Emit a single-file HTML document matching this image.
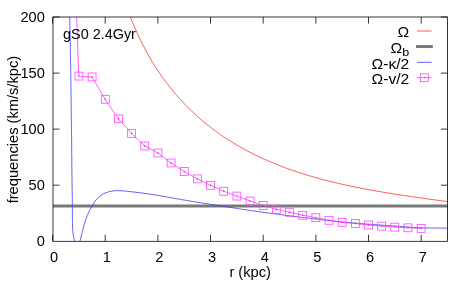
<!DOCTYPE html>
<html><head><meta charset="utf-8"><title>plot</title>
<style>html,body{margin:0;padding:0;background:#fff;}body{width:471px;height:283px;overflow:hidden;}svg{display:block;will-change:transform;}text{font-family:"Liberation Sans",sans-serif;font-size:14px;fill:#000;}</style>
</head><body>
<svg width="471" height="283" viewBox="0 0 471 283">
<rect width="471" height="283" fill="#fff"/>
<defs><clipPath id="c"><rect x="53.0" y="17.0" width="394.5" height="224.3"/></clipPath></defs>
<g clip-path="url(#c)" fill="none">
<path d="M121.0,-9.3 L122.7,-4.2 L124.3,0.7 L126.0,5.4 L127.6,9.9 L129.3,14.2 L130.9,18.4 L132.6,22.5 L134.2,26.3 L135.9,30.1 L137.5,33.7 L139.1,37.3 L140.8,40.7 L142.4,44.0 L144.1,47.1 L145.7,50.2 L147.4,53.3 L149.0,56.2 L150.7,59.0 L152.3,61.8 L154.0,64.5 L155.6,67.1 L157.2,69.6 L158.9,72.1 L160.5,74.5 L162.2,76.9 L163.8,79.2 L165.5,81.4 L167.1,83.6 L168.8,85.7 L170.4,87.8 L172.1,89.9 L173.7,91.9 L175.4,93.8 L177.0,95.7 L178.6,97.6 L180.3,99.4 L181.9,101.2 L183.6,103.0 L185.2,104.7 L186.9,106.4 L188.5,108.0 L190.2,109.7 L191.8,111.2 L193.5,112.8 L195.1,114.3 L196.7,115.8 L198.4,117.3 L200.0,118.7 L201.7,120.1 L203.3,121.5 L205.0,122.9 L206.6,124.2 L208.3,125.5 L209.9,126.8 L211.6,128.1 L213.2,129.3 L214.8,130.6 L216.5,131.8 L218.1,133.0 L219.8,134.1 L221.4,135.3 L223.1,136.4 L224.7,137.5 L226.4,138.6 L228.0,139.6 L229.7,140.7 L231.3,141.7 L232.9,142.7 L234.6,143.7 L236.2,144.7 L237.9,145.7 L239.5,146.6 L241.2,147.6 L242.8,148.5 L244.5,149.4 L246.1,150.3 L247.8,151.2 L249.4,152.0 L251.1,152.9 L252.7,153.7 L254.3,154.5 L256.0,155.3 L257.6,156.1 L259.3,156.9 L260.9,157.7 L262.6,158.4 L264.2,159.2 L265.9,159.9 L267.5,160.6 L269.2,161.3 L270.8,162.0 L272.4,162.7 L274.1,163.4 L275.7,164.1 L277.4,164.7 L279.0,165.4 L280.7,166.0 L282.3,166.6 L284.0,167.3 L285.6,167.9 L287.3,168.5 L288.9,169.1 L290.5,169.6 L292.2,170.2 L293.8,170.8 L295.5,171.3 L297.1,171.9 L298.8,172.4 L300.4,173.0 L302.1,173.5 L303.7,174.0 L305.4,174.5 L307.0,175.0 L308.6,175.5 L310.3,176.0 L311.9,176.5 L313.6,177.0 L315.2,177.5 L316.9,177.9 L318.5,178.4 L320.2,178.8 L321.8,179.3 L323.5,179.7 L325.1,180.1 L326.8,180.6 L328.4,181.0 L330.0,181.4 L331.7,181.8 L333.3,182.2 L335.0,182.6 L336.6,183.0 L338.3,183.4 L339.9,183.8 L341.6,184.1 L343.2,184.5 L344.9,184.9 L346.5,185.2 L348.1,185.6 L349.8,185.9 L351.4,186.3 L353.1,186.6 L354.7,187.0 L356.4,187.3 L358.0,187.6 L359.7,187.9 L361.3,188.3 L363.0,188.6 L364.6,188.9 L366.2,189.2 L367.9,189.5 L369.5,189.8 L371.2,190.1 L372.8,190.4 L374.5,190.7 L376.1,191.0 L377.8,191.3 L379.4,191.6 L381.1,191.8 L382.7,192.1 L384.3,192.4 L386.0,192.7 L387.6,192.9 L389.3,193.2 L390.9,193.5 L392.6,193.7 L394.2,194.0 L395.9,194.3 L397.5,194.5 L399.2,194.8 L400.8,195.0 L402.4,195.3 L404.1,195.5 L405.7,195.8 L407.4,196.0 L409.0,196.2 L410.7,196.5 L412.3,196.7 L414.0,197.0 L415.6,197.2 L417.3,197.4 L418.9,197.7 L420.6,197.9 L422.2,198.1 L423.8,198.4 L425.5,198.6 L427.1,198.8 L428.8,199.1 L430.4,199.3 L432.1,199.5 L433.7,199.7 L435.4,200.0 L437.0,200.2 L438.7,200.4 L440.3,200.6 L441.9,200.8 L443.6,201.1 L445.2,201.3 L446.9,201.5 L448.5,201.7" stroke="#ff2a2a" stroke-width="0.78"/>
<line x1="53.0" x2="448.5" y1="206" y2="206" stroke="#7a7a7a" stroke-width="3"/>
<path d="M69.7,17.0 L69.7,18.6 L69.8,20.2 L69.8,21.8 L69.8,23.5 L69.9,25.1 L69.9,26.7 L69.9,28.3 L70.0,29.9 L70.0,31.5 L70.0,33.2 L70.1,34.8 L70.1,36.4 L70.1,38.0 L70.2,39.6 L70.2,41.2 L70.2,42.8 L70.3,44.5 L70.3,46.1 L70.3,47.7 L70.3,49.3 L70.4,50.9 L70.4,52.5 L70.4,54.2 L70.5,55.8 L70.5,57.4 L70.5,59.0 L70.5,60.6 L70.6,62.2 L70.6,63.8 L70.6,65.5 L70.7,67.1 L70.7,68.7 L70.7,70.3 L70.7,71.9 L70.8,73.5 L70.8,75.2 L70.8,76.8 L70.8,78.4 L70.9,80.0 L70.9,81.6 L70.9,83.2 L70.9,84.8 L70.9,86.5 L71.0,88.1 L71.0,89.7 L71.0,91.3 L71.0,92.9 L71.1,94.5 L71.1,96.2 L71.1,97.8 L71.1,99.4 L71.1,101.0 L71.2,102.6 L71.2,104.2 L71.2,105.8 L71.2,107.5 L71.2,109.1 L71.3,110.7 L71.3,112.3 L71.3,113.9 L71.3,115.5 L71.3,117.2 L71.4,118.8 L71.4,120.4 L71.4,122.0 L71.4,123.6 L71.4,125.2 L71.5,126.8 L71.5,128.5 L71.5,130.1 L71.5,131.7 L71.5,133.3 L71.6,134.9 L71.6,136.5 L71.6,138.2 L71.6,139.8 L71.6,141.4 L71.6,143.0 L71.6,144.6 L71.7,146.2 L71.7,147.8 L71.7,149.5 L71.7,151.1 L71.7,152.7 L71.7,154.3 L71.8,155.9 L71.8,157.5 L71.8,159.2 L71.8,160.8 L71.8,162.4 L71.8,164.0 L71.8,165.6 L71.9,167.2 L71.9,168.8 L71.9,170.5 L71.9,172.1 L71.9,173.7 L71.9,175.3 L72.0,176.9 L72.0,178.5 L72.0,180.2 L72.0,181.8 L72.0,183.4 L72.1,185.0 L72.1,186.6 L72.1,188.2 L72.2,189.8 L72.2,191.5 L72.2,193.1 L72.2,194.7 L72.3,196.3 L72.3,197.9 L72.3,199.5 L72.3,201.2 L72.3,202.8 L72.3,204.4 L72.3,206.0 L72.4,207.6 L72.4,209.2 L72.4,210.9 L72.4,212.5 L72.4,214.1 L72.4,215.7 L72.4,217.3 L72.4,218.9 L72.4,220.5 L72.5,222.2 L72.5,223.8 L72.5,225.4 L72.6,227.0 L72.6,228.6 L72.8,230.2 L72.9,231.8 L73.1,233.4 L73.3,235.0 L73.5,236.6 L73.8,238.2 L74.2,239.8 L74.6,241.4 L74.9,243.0 L75.2,244.6 L75.6,246.1 L76.0,247.8 L76.8,249.6 L77.5,249.8 L78.2,248.2 L78.8,246.5 L79.2,244.9 L79.5,243.3 L79.8,241.7 L80.2,240.2 L80.6,238.6 L81.0,237.0 L81.4,235.5 L81.8,233.9 L82.2,232.3 L82.6,230.8 L83.0,229.2 L83.4,227.6 L83.8,226.1 L84.2,224.5 L84.7,223.0 L85.2,221.4 L85.7,219.9 L86.2,218.4 L86.8,216.9 L87.4,215.4 L88.0,213.9 L88.7,212.4 L89.4,210.9 L90.1,209.5 L90.9,208.1 L91.7,206.7 L92.5,205.3 L93.4,203.9 L94.2,202.5 L95.1,201.2 L96.1,199.9 L97.1,198.7 L98.3,197.5 L99.5,196.5 L100.8,195.4 L102.2,194.5 L103.5,193.8 L105.0,193.1 L106.5,192.5 L108.1,192.0 L109.6,191.6 L111.2,191.3 L112.8,191.0 L114.4,190.8 L116.0,190.6 L117.6,190.6 L119.3,190.7 L120.9,190.7 L122.5,190.9 L124.1,191.0 L125.7,191.2 L127.3,191.3 L128.9,191.5 L130.5,191.7 L132.1,191.8 L133.7,192.0 L135.3,192.2 L137.0,192.4 L138.6,192.6 L140.2,192.8 L141.8,193.0 L143.4,193.2 L145.0,193.5 L146.6,193.7 L148.2,193.9 L149.8,194.2 L151.4,194.4 L152.9,194.6 L154.5,194.9 L156.1,195.1 L157.7,195.4 L159.3,195.7 L160.9,195.9 L162.5,196.2 L164.1,196.5 L165.7,196.8 L167.3,197.1 L168.9,197.3 L170.5,197.6 L172.1,197.9 L173.6,198.2 L175.2,198.5 L176.8,198.8 L178.4,199.0 L180.0,199.3 L181.6,199.6 L183.2,199.9 L184.8,200.1 L186.4,200.4 L188.0,200.7 L189.6,200.9 L191.2,201.2 L192.8,201.4 L194.4,201.7 L196.0,202.0 L197.5,202.2 L199.1,202.5 L200.7,202.7 L202.3,203.0 L203.9,203.3 L205.5,203.5 L207.1,203.8 L208.7,204.0 L210.3,204.3 L211.9,204.5 L213.5,204.8 L215.1,205.0 L216.7,205.3 L218.3,205.5 L219.9,205.8 L221.5,206.0 L223.1,206.3 L224.7,206.5 L226.3,206.8 L227.9,207.0 L229.5,207.3 L231.1,207.5 L232.7,207.8 L234.2,208.0 L235.8,208.3 L237.4,208.5 L239.0,208.8 L240.6,209.0 L242.2,209.3 L243.8,209.5 L245.4,209.7 L247.0,210.0 L248.6,210.2 L250.2,210.4 L251.8,210.7 L253.4,210.9 L255.0,211.1 L256.6,211.3 L258.2,211.6 L259.8,211.8 L261.4,212.0 L263.0,212.2 L264.6,212.5 L266.2,212.7 L267.8,212.9 L269.4,213.1 L271.0,213.3 L272.6,213.6 L274.2,213.8 L275.8,214.0 L277.4,214.2 L279.0,214.4 L280.6,214.6 L282.2,214.8 L283.8,215.1 L285.4,215.3 L287.0,215.5 L288.6,215.7 L290.2,215.9 L291.8,216.1 L293.5,216.3 L295.1,216.5 L296.7,216.7 L298.3,216.9 L299.9,217.1 L301.5,217.3 L303.1,217.5 L304.7,217.7 L306.3,217.9 L307.9,218.1 L309.5,218.3 L311.1,218.5 L312.7,218.6 L314.3,218.8 L315.9,219.0 L317.5,219.2 L319.1,219.4 L320.7,219.6 L322.3,219.8 L323.9,220.0 L325.5,220.2 L327.1,220.4 L328.7,220.5 L330.4,220.7 L332.0,220.9 L333.6,221.1 L335.2,221.2 L336.8,221.4 L338.4,221.6 L340.0,221.7 L341.6,221.9 L343.2,222.1 L344.8,222.2 L346.4,222.4 L348.0,222.5 L349.6,222.7 L351.2,222.8 L352.9,223.0 L354.5,223.1 L356.1,223.2 L357.7,223.4 L359.3,223.5 L360.9,223.6 L362.5,223.7 L364.1,223.9 L365.7,224.0 L367.3,224.1 L369.0,224.2 L370.6,224.4 L372.2,224.5 L373.8,224.6 L375.4,224.7 L377.0,224.8 L378.6,224.9 L380.2,225.0 L381.8,225.2 L383.5,225.3 L385.1,225.4 L386.7,225.5 L388.3,225.6 L389.9,225.7 L391.5,225.8 L393.1,225.9 L394.7,226.0 L396.4,226.1 L398.0,226.3 L399.6,226.4 L401.2,226.5 L402.8,226.6 L404.4,226.7 L406.0,226.9 L407.6,227.0 L409.3,227.1 L410.9,227.3 L412.5,227.4 L414.1,227.5 L415.7,227.6 L417.3,227.7 L418.9,227.7 L420.5,227.8 L422.2,227.8 L423.8,227.9 L425.4,227.9 L427.0,227.9 L428.6,227.9 L430.2,228.0 L431.8,228.0 L433.5,228.0 L435.1,228.0 L436.7,228.0 L438.3,228.1 L439.9,228.1 L441.5,228.1 L443.1,228.1 L444.8,228.1 L446.4,228.1 L448.0,228.1" stroke="#3030ff" stroke-width="0.78"/>
<path d="M76.7,17.0 L78.5,70.0 L78.9,76.1 L92.1,77.0 L105.2,99.3 L118.4,118.8 L131.6,133.4 L144.7,145.9 L157.9,153.0 L171.1,163.0 L184.2,171.5 L197.4,178.9 L210.5,185.3 L223.7,191.2 L236.9,196.1 L250.0,201.0 L263.2,205.5 L276.4,209.3 L289.5,212.2 L302.7,215.2 L315.9,217.7 L329.0,220.3 L342.2,222.4 L355.3,223.5 L368.5,225.0 L381.7,226.1 L394.8,227.1 L408.0,227.8 L421.2,228.4" stroke="#ff35ff" stroke-width="0.78"/>
</g>
<g fill="none" stroke="#ff40ff" stroke-width="0.78">
<rect x="74.97" y="72.12" width="7.9" height="7.9"/>
<rect x="88.14" y="73.01" width="7.9" height="7.9"/>
<rect x="101.30" y="95.33" width="7.9" height="7.9"/>
<rect x="114.46" y="114.85" width="7.9" height="7.9"/>
<rect x="127.62" y="129.43" width="7.9" height="7.9"/>
<rect x="140.79" y="141.99" width="7.9" height="7.9"/>
<rect x="153.95" y="149.05" width="7.9" height="7.9"/>
<rect x="167.11" y="159.03" width="7.9" height="7.9"/>
<rect x="180.28" y="167.56" width="7.9" height="7.9"/>
<rect x="193.44" y="174.96" width="7.9" height="7.9"/>
<rect x="206.60" y="181.35" width="7.9" height="7.9"/>
<rect x="219.76" y="187.29" width="7.9" height="7.9"/>
<rect x="232.93" y="192.12" width="7.9" height="7.9"/>
<rect x="246.09" y="197.05" width="7.9" height="7.9"/>
<rect x="259.25" y="201.54" width="7.9" height="7.9"/>
<rect x="272.41" y="205.35" width="7.9" height="7.9"/>
<rect x="285.57" y="208.27" width="7.9" height="7.9"/>
<rect x="298.74" y="211.29" width="7.9" height="7.9"/>
<rect x="311.90" y="213.76" width="7.9" height="7.9"/>
<rect x="325.06" y="216.34" width="7.9" height="7.9"/>
<rect x="338.23" y="218.47" width="7.9" height="7.9"/>
<rect x="351.39" y="219.59" width="7.9" height="7.9"/>
<rect x="364.55" y="221.05" width="7.9" height="7.9"/>
<rect x="377.71" y="222.17" width="7.9" height="7.9"/>
<rect x="390.88" y="223.18" width="7.9" height="7.9"/>
<rect x="404.04" y="223.86" width="7.9" height="7.9"/>
<rect x="417.20" y="224.42" width="7.9" height="7.9"/>
</g>
<g fill="#e000e0">
<circle cx="78.9" cy="76.1" r="0.7"/>
<circle cx="92.1" cy="77.0" r="0.7"/>
<circle cx="105.2" cy="99.3" r="0.7"/>
<circle cx="118.4" cy="118.8" r="0.7"/>
<circle cx="131.6" cy="133.4" r="0.7"/>
<circle cx="144.7" cy="145.9" r="0.7"/>
<circle cx="157.9" cy="153.0" r="0.7"/>
<circle cx="171.1" cy="163.0" r="0.7"/>
<circle cx="184.2" cy="171.5" r="0.7"/>
<circle cx="197.4" cy="178.9" r="0.7"/>
<circle cx="210.5" cy="185.3" r="0.7"/>
<circle cx="223.7" cy="191.2" r="0.7"/>
<circle cx="236.9" cy="196.1" r="0.7"/>
<circle cx="250.0" cy="201.0" r="0.7"/>
<circle cx="263.2" cy="205.5" r="0.7"/>
<circle cx="276.4" cy="209.3" r="0.7"/>
<circle cx="289.5" cy="212.2" r="0.7"/>
<circle cx="302.7" cy="215.2" r="0.7"/>
<circle cx="315.9" cy="217.7" r="0.7"/>
<circle cx="329.0" cy="220.3" r="0.7"/>
<circle cx="342.2" cy="222.4" r="0.7"/>
<circle cx="355.3" cy="223.5" r="0.7"/>
<circle cx="368.5" cy="225.0" r="0.7"/>
<circle cx="381.7" cy="226.1" r="0.7"/>
<circle cx="394.8" cy="227.1" r="0.7"/>
<circle cx="408.0" cy="227.8" r="0.7"/>
<circle cx="421.2" cy="228.4" r="0.7"/>
</g>
<g stroke="#000" stroke-width="0.78" fill="none">
<rect x="53.0" y="17.0" width="394.5" height="224.3" />
<line x1="52.6" x2="52.6" y1="241.3" y2="234.70000000000002"/>
<line x1="52.6" x2="52.6" y1="17.0" y2="23.6"/>
<line x1="105.2" x2="105.2" y1="241.3" y2="234.70000000000002"/>
<line x1="105.2" x2="105.2" y1="17.0" y2="23.6"/>
<line x1="157.9" x2="157.9" y1="241.3" y2="234.70000000000002"/>
<line x1="157.9" x2="157.9" y1="17.0" y2="23.6"/>
<line x1="210.5" x2="210.5" y1="241.3" y2="234.70000000000002"/>
<line x1="210.5" x2="210.5" y1="17.0" y2="23.6"/>
<line x1="263.2" x2="263.2" y1="241.3" y2="234.70000000000002"/>
<line x1="263.2" x2="263.2" y1="17.0" y2="23.6"/>
<line x1="315.9" x2="315.9" y1="241.3" y2="234.70000000000002"/>
<line x1="315.9" x2="315.9" y1="17.0" y2="23.6"/>
<line x1="368.5" x2="368.5" y1="241.3" y2="234.70000000000002"/>
<line x1="368.5" x2="368.5" y1="17.0" y2="23.6"/>
<line x1="421.2" x2="421.2" y1="241.3" y2="234.70000000000002"/>
<line x1="421.2" x2="421.2" y1="17.0" y2="23.6"/>
<line x1="53.0" x2="59.6" y1="185.2" y2="185.2"/>
<line x1="447.5" x2="440.9" y1="185.2" y2="185.2"/>
<line x1="53.0" x2="59.6" y1="129.1" y2="129.1"/>
<line x1="447.5" x2="440.9" y1="129.1" y2="129.1"/>
<line x1="53.0" x2="59.6" y1="73.1" y2="73.1"/>
<line x1="447.5" x2="440.9" y1="73.1" y2="73.1"/>
<line x1="53.0" x2="59.6" y1="17.0" y2="17.0"/>
<line x1="447.5" x2="440.9" y1="17.0" y2="17.0"/>
</g>
<text transform="translate(54.1,262) scale(1.045,1)" text-anchor="middle">0</text>
<text transform="translate(106.8,262) scale(1.045,1)" text-anchor="middle">1</text>
<text transform="translate(159.4,262) scale(1.045,1)" text-anchor="middle">2</text>
<text transform="translate(212.0,262) scale(1.045,1)" text-anchor="middle">3</text>
<text transform="translate(264.7,262) scale(1.045,1)" text-anchor="middle">4</text>
<text transform="translate(317.4,262) scale(1.045,1)" text-anchor="middle">5</text>
<text transform="translate(370.0,262) scale(1.045,1)" text-anchor="middle">6</text>
<text transform="translate(422.7,262) scale(1.045,1)" text-anchor="middle">7</text>
<text transform="translate(44.8,246.3) scale(1.045,1)" text-anchor="end">0</text>
<text transform="translate(44.8,190.2) scale(1.045,1)" text-anchor="end">50</text>
<text transform="translate(44.8,134.1) scale(1.045,1)" text-anchor="end">100</text>
<text transform="translate(44.8,78.1) scale(1.045,1)" text-anchor="end">150</text>
<text transform="translate(44.8,22.0) scale(1.045,1)" text-anchor="end">200</text>
<text transform="translate(250.2,277.2) scale(1.05,1)" text-anchor="middle">r (kpc)</text>
<text transform="translate(17.8,129.6) rotate(-90) scale(1.048,1)" text-anchor="middle">frequencies (km/s/kpc)</text>
<text transform="translate(63,38.7) scale(1.03,1)" text-anchor="start">gS0 2.4Gyr</text>
<text transform="translate(409.3,37) scale(1.12,1)" text-anchor="end">Ω</text>
<text transform="translate(409.3,52.8) scale(1.12,1)" text-anchor="end">Ω<tspan font-size="11.2px" dy="2.8">b</tspan></text>
<text transform="translate(409.3,68.6) scale(1.12,1)" text-anchor="end">Ω-κ/2</text>
<text transform="translate(409.3,83.6) scale(1.12,1)" text-anchor="end">Ω-v/2</text>
<line x1="417" x2="431.6" y1="31" y2="31" stroke="#ff2a2a" stroke-width="0.78"/>
<line x1="416" x2="432.8" y1="46.5" y2="46.5" stroke="#7a7a7a" stroke-width="3"/>
<line x1="417" x2="431.6" y1="62.3" y2="62.3" stroke="#3030ff" stroke-width="0.78"/>
<line x1="417" x2="431.6" y1="77.6" y2="77.6" stroke="#ff35ff" stroke-width="0.78"/>
<rect x="420.45" y="73.75" width="7.9" height="7.9" fill="none" stroke="#ff40ff" stroke-width="0.78"/>
<circle cx="424.4" cy="77.6" r="0.7" fill="#e000e0"/>
</svg></body></html>
